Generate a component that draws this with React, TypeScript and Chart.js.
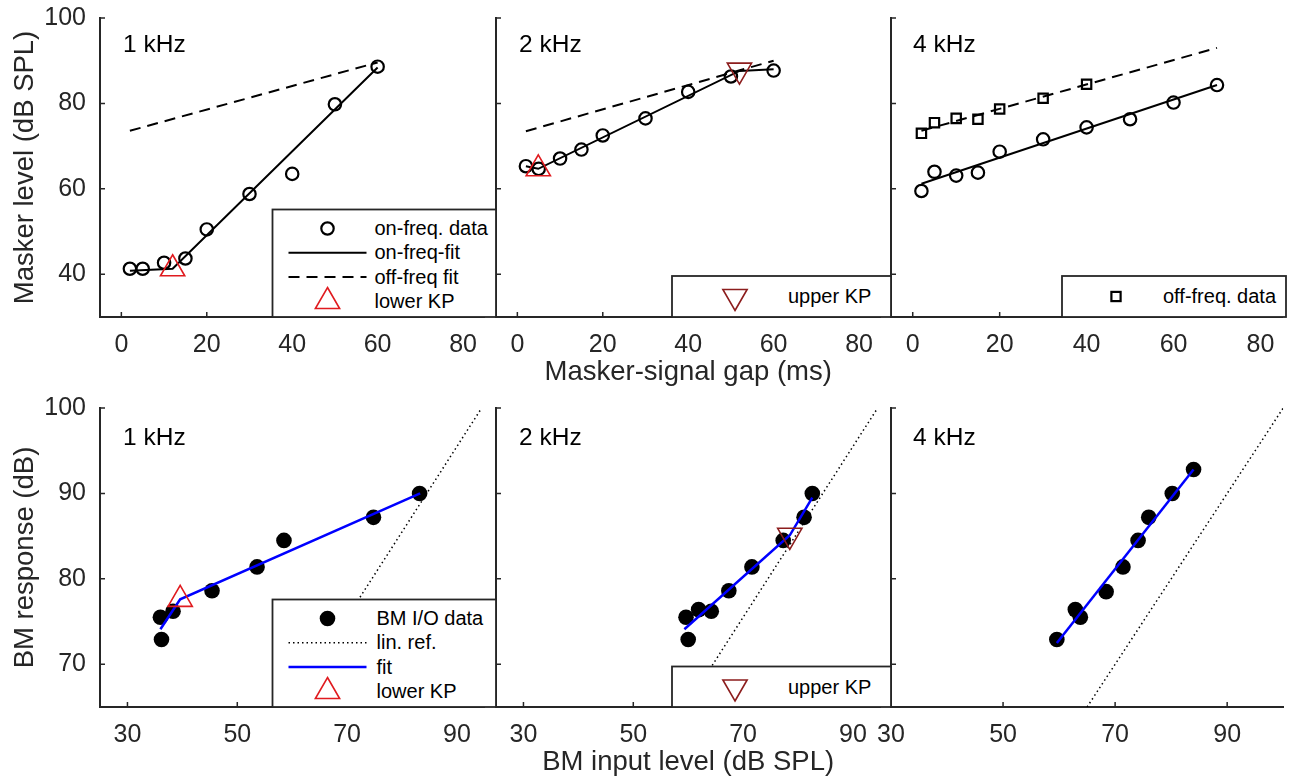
import React, { useEffect, useRef } from 'react';
import { Chart, registerables } from 'chart.js';

Chart.register(...registerables);

const FONT = '"Liberation Sans", Arial, Helvetica, sans-serif';
const AXIS = '#262626';
const RED = '#e01b1f';
const DARKRED = '#8c1d1d';
const BLUE = '#0000ff';

// ---------------- data: forward masking (top row) ----------------
const gapTicks = [0, 20, 40, 60, 80];
const levelTicks = [40, 60, 80, 100];

const gapMs = [2, 5, 10, 15, 20, 30, 40, 50, 60];
const gapMs4k = [2, 5, 10, 15, 20, 30, 40, 50, 60, 70];
const gapMsOff4k = [2, 5, 10, 15, 20, 30, 40];

const onFreq1k = [41.3, 41.3, 42.7, 43.7, 50.5, 58.8, 63.5, 79.8, 88.6];
const onFreq2k = [65.3, 64.7, 67.1, 69.2, 72.5, 76.5, 82.7, 86.3, 87.7];
const onFreq4k = [59.5, 64.0, 63.1, 63.8, 68.7, 71.6, 74.4, 76.3, 80.2, 84.3];
const offFreq4k = [73.0, 75.5, 76.5, 76.3, 78.7, 81.2, 84.5];

const onFitGap1k = [2, 12, 60];
const onFitLevel1k = [40.8, 41.3, 88.4];
const offFitGap1k = [2, 60];
const offFitLevel1k = [73.6, 89.6];

const onFitGap2k = [2, 4.9, 52, 60];
const onFitLevel2k = [65.3, 64.7, 87.6, 88.0];
const offFitGap2k = [2, 60];
const offFitLevel2k = [73.5, 90.0];

const onFitGap4k = [2, 70];
const onFitLevel4k = [61.2, 84.3];
const offFitGap4k = [2, 70];
const offFitLevel4k = [73.6, 93.0];

const lowerKPGap1k = [12];
const lowerKPLevel1k = [41.3];
const lowerKPGap2k = [4.9];
const lowerKPLevel2k = [64.7];
const upperKPGap2k = [52];
const upperKPLevel2k = [87.8];

// ---------------- data: BM input/output (bottom row) ----------------
const inputTicks = [30, 50, 70, 90];
const responseTicks = [70, 80, 90, 100];

const bmIn1k = [36.2, 36.0, 38.3, 45.4, 53.6, 58.5, 74.8, 83.2];
const bmOut1k = [72.9, 75.5, 76.2, 78.6, 81.4, 84.5, 87.2, 90.0];
const bmIn2k = [59.6, 60.0, 61.9, 64.2, 67.4, 71.6, 77.3, 81.1, 82.6];
const bmOut2k = [75.5, 72.9, 76.4, 76.2, 78.6, 81.4, 84.5, 87.2, 90.0];
const bmIn4k = [59.6, 62.9, 63.8, 68.4, 71.4, 74.1, 76.0, 80.2, 84.0];
const bmOut4k = [72.9, 76.4, 75.5, 78.5, 81.4, 84.5, 87.2, 90.0, 92.8];

const bmFitIn1k = [36.0, 39.6, 83.3];
const bmFitOut1k = [74.1, 77.6, 90.0];
const bmFitIn2k = [59.3, 78.5, 82.6];
const bmFitOut2k = [74.1, 85.1, 89.5];
const bmFitIn4k = [59.6, 84.0];
const bmFitOut4k = [72.5, 92.8];

const linRefIn12k = [59.5, 94.5];
const linRefOut12k = [65, 100];
const linRefIn4k = [65, 100];
const linRefOut4k = [65, 100];

const bmLowerKPIn1k = [39.6];
const bmLowerKPOut1k = [77.6];
const bmUpperKPIn2k = [78.5];
const bmUpperKPOut2k = [85.1];

// ---------------- helpers ----------------
type Pt = { x: number; y: number };
const zip = (xs: number[], ys: number[]): Pt[] => xs.map((x, i) => ({ x, y: ys[i] }));

const marks = (xs: number[], ys: number[], style: string, o: any) => ({
  data: zip(xs, ys),
  showLine: false,
  pointStyle: style,
  pointRadius: o.r,
  pointHoverRadius: o.r,
  pointBorderWidth: o.bw,
  pointBorderColor: o.color,
  pointBackgroundColor: o.fill || 'rgba(0,0,0,0)',
  pointRotation: o.rot || 0,
});

const line = (xs: number[], ys: number[], color: string, width: number, dash: number[] = []) => ({
  data: zip(xs, ys),
  showLine: true,
  pointRadius: 0,
  pointHoverRadius: 0,
  borderColor: color,
  borderWidth: width,
  borderDash: dash,
  fill: false,
  tension: 0,
});

const DASH = [11, 7];
const DOT = [1.5, 3];
const openCircle = { r: 6.2, bw: 2.2, color: '#000' };
const openSquare = { r: 6.6, bw: 2.2, color: '#000' };
const filledDot = { r: 7.8, bw: 0, color: '#000', fill: '#000' };
const lowerKP = { r: 14, bw: 1.6, color: RED };
const upperKP = { r: 14, bw: 1.6, color: DARKRED, rot: 180 };

const inwardTicks = {
  id: 'inwardTicks',
  afterDraw(chart: any) {
    const { ctx, chartArea: a } = chart;
    const xs = chart.scales.x;
    const ys = chart.scales.y;
    ctx.save();
    ctx.strokeStyle = AXIS;
    ctx.lineWidth = 1.5;
    ctx.beginPath();
    xs.ticks.forEach((t: any) => {
      const p = xs.getPixelForValue(t.value);
      ctx.moveTo(p, a.bottom);
      ctx.lineTo(p, a.bottom - 5);
    });
    ys.ticks.forEach((t: any) => {
      const p = ys.getPixelForValue(t.value);
      ctx.moveTo(a.left, p);
      ctx.lineTo(a.left + 5, p);
    });
    ctx.stroke();
    ctx.restore();
  },
};

// ---------------- layout ----------------
const PANEL_X = [100, 496, 891];
const PANEL_W = 395;
const PANEL_H = 299;
const ROW_Y = [18, 408];
const PAD_TOP = 18;
const PAD_RIGHT = 5;
const X_AXIS_H = 72;

type PanelSpec = {
  key: string;
  col: number;
  row: number;
  xMin: number;
  xMax: number;
  yMin: number;
  yMax: number;
  xTicks: number[];
  yTicks: number[];
  yLabels: boolean;
  yTitle: string;
  xTitle: string;
  datasets: any[];
};

const panels: PanelSpec[] = [
  {
    key: 't1', col: 0, row: 0, xMin: -5, xMax: 85, yMin: 30, yMax: 100,
    xTicks: gapTicks, yTicks: levelTicks, yLabels: true, yTitle: 'Masker level (dB SPL)', xTitle: '',
    datasets: [
      marks(lowerKPGap1k, lowerKPLevel1k, 'triangle', lowerKP),
      marks(gapMs, onFreq1k, 'circle', openCircle),
      line(onFitGap1k, onFitLevel1k, '#000', 2),
      line(offFitGap1k, offFitLevel1k, '#000', 2, DASH),
    ],
  },
  {
    key: 't2', col: 1, row: 0, xMin: -5, xMax: 85, yMin: 30, yMax: 100,
    xTicks: gapTicks, yTicks: levelTicks, yLabels: false, yTitle: '', xTitle: 'Masker-signal gap (ms)',
    datasets: [
      marks(lowerKPGap2k, lowerKPLevel2k, 'triangle', lowerKP),
      marks(upperKPGap2k, upperKPLevel2k, 'triangle', upperKP),
      marks(gapMs, onFreq2k, 'circle', openCircle),
      line(onFitGap2k, onFitLevel2k, '#000', 2),
      line(offFitGap2k, offFitLevel2k, '#000', 2, DASH),
    ],
  },
  {
    key: 't3', col: 2, row: 0, xMin: -5, xMax: 85, yMin: 30, yMax: 100,
    xTicks: gapTicks, yTicks: levelTicks, yLabels: false, yTitle: '', xTitle: '',
    datasets: [
      marks(gapMs4k, onFreq4k, 'circle', openCircle),
      marks(gapMsOff4k, offFreq4k, 'rect', openSquare),
      line(onFitGap4k, onFitLevel4k, '#000', 2),
      line(offFitGap4k, offFitLevel4k, '#000', 2, DASH),
    ],
  },
  {
    key: 'b1', col: 0, row: 1, xMin: 25, xMax: 95, yMin: 65, yMax: 100,
    xTicks: inputTicks, yTicks: responseTicks, yLabels: true, yTitle: 'BM response (dB)', xTitle: '',
    datasets: [
      marks(bmLowerKPIn1k, bmLowerKPOut1k, 'triangle', lowerKP),
      line(bmFitIn1k, bmFitOut1k, BLUE, 2.5),
      marks(bmIn1k, bmOut1k, 'circle', filledDot),
      line(linRefIn12k, linRefOut12k, '#000', 1.5, DOT),
    ],
  },
  {
    key: 'b2', col: 1, row: 1, xMin: 25, xMax: 95, yMin: 65, yMax: 100,
    xTicks: inputTicks, yTicks: responseTicks, yLabels: false, yTitle: '', xTitle: 'BM input level (dB SPL)',
    datasets: [
      marks(bmUpperKPIn2k, bmUpperKPOut2k, 'triangle', upperKP),
      line(bmFitIn2k, bmFitOut2k, BLUE, 2.5),
      marks(bmIn2k, bmOut2k, 'circle', filledDot),
      line(linRefIn12k, linRefOut12k, '#000', 1.5, DOT),
    ],
  },
  {
    key: 'b3', col: 2, row: 1, xMin: 30, xMax: 100, yMin: 65, yMax: 100,
    xTicks: inputTicks, yTicks: responseTicks, yLabels: false, yTitle: '', xTitle: '',
    datasets: [
      line(bmFitIn4k, bmFitOut4k, BLUE, 2.5),
      marks(bmIn4k, bmOut4k, 'circle', filledDot),
      line(linRefIn4k, linRefOut4k, '#000', 1.5, DOT),
    ],
  },
];

function Panel({ spec }: { spec: PanelSpec }) {
  const ref = useRef<HTMLCanvasElement>(null);
  const yAxisW = spec.yLabels ? PANEL_X[0] : 24;
  const left = PANEL_X[spec.col] - yAxisW;
  const top = ROW_Y[spec.row] - PAD_TOP;
  const width = yAxisW + PANEL_W + PAD_RIGHT;
  const height = PAD_TOP + PANEL_H + X_AXIS_H;

  useEffect(() => {
    if (!ref.current) return;
    const chart = new Chart(ref.current, {
      type: 'scatter',
      data: { datasets: spec.datasets },
      options: {
        animation: false,
        responsive: false,
        maintainAspectRatio: false,
        devicePixelRatio: 1,
        events: [],
        layout: { padding: { top: PAD_TOP, right: PAD_RIGHT, bottom: 0, left: 0 } },
        plugins: { legend: { display: false }, tooltip: { enabled: false }, title: { display: false } },
        scales: {
          x: {
            type: 'linear',
            position: 'bottom',
            min: spec.xMin,
            max: spec.xMax,
            afterBuildTicks: (s: any) => {
              s.ticks = spec.xTicks.map((v) => ({ value: v }));
            },
            afterFit: (s: any) => {
              s.height = X_AXIS_H;
              s.paddingLeft = 0;
              s.paddingRight = 0;
              s.paddingTop = 0;
              s.paddingBottom = 0;
            },
            grid: { display: false, drawTicks: false },
            border: { display: true, color: AXIS, width: 2 },
            ticks: {
              display: true,
              autoSkip: false,
              maxRotation: 0,
              color: AXIS,
              padding: 13,
              font: { size: 25, family: FONT },
            },
            title: {
              display: !!spec.xTitle,
              text: spec.xTitle,
              color: AXIS,
              padding: 0,
              font: { size: 27.5, family: FONT },
            },
          },
          y: {
            type: 'linear',
            position: 'left',
            min: spec.yMin,
            max: spec.yMax,
            afterBuildTicks: (s: any) => {
              s.ticks = spec.yTicks.map((v) => ({ value: v }));
            },
            afterFit: (s: any) => {
              s.width = yAxisW;
              s.paddingLeft = 0;
              s.paddingRight = 0;
              s.paddingTop = 0;
              s.paddingBottom = 0;
            },
            grid: { display: false, drawTicks: false },
            border: { display: true, color: AXIS, width: 2 },
            ticks: {
              display: spec.yLabels,
              autoSkip: false,
              color: AXIS,
              padding: 14,
              font: { size: 25, family: FONT },
            },
            title: {
              display: !!spec.yTitle,
              text: spec.yTitle,
              color: AXIS,
              padding: { top: 8.5, bottom: 0 },
              font: { size: 27.5, family: FONT },
            },
          },
        },
      } as any,
      plugins: [inwardTicks],
    });
    return () => chart.destroy();
  }, []);

  return (
    <canvas
      ref={ref}
      width={width}
      height={height}
      style={{ position: 'absolute', left, top, width, height }}
    />
  );
}

// ---------------- legends & panel labels (overlay) ----------------
type Sym = 'circle' | 'dot' | 'square' | 'triUp' | 'triDown' | 'solid' | 'dashed' | 'dotted' | 'blue';
type LegendSpec = {
  left: number;
  top: number;
  width: number;
  height: number;
  symX: number;
  textX: number;
  rows: { sym: Sym; label: string; cy: number }[];
};

const ROW4 = [19, 43.3, 67.6, 92];
const legends: LegendSpec[] = [
  {
    left: 272.5, top: 209.5, width: 223.5, height: 107.5, symX: 55, textX: 102,
    rows: [
      { sym: 'circle', label: 'on-freq. data', cy: ROW4[0] },
      { sym: 'solid', label: 'on-freq-fit', cy: ROW4[1] },
      { sym: 'dashed', label: 'off-freq fit', cy: ROW4[2] },
      { sym: 'triUp', label: 'lower KP', cy: ROW4[3] },
    ],
  },
  {
    left: 672, top: 276, width: 219, height: 41, symX: 63, textX: 116,
    rows: [{ sym: 'triDown', label: 'upper KP', cy: 20.5 }],
  },
  {
    left: 1062, top: 276, width: 224, height: 41, symX: 54, textX: 101,
    rows: [{ sym: 'square', label: 'off-freq. data', cy: 20.5 }],
  },
  {
    left: 272.5, top: 599.5, width: 223.5, height: 107.5, symX: 55, textX: 104,
    rows: [
      { sym: 'dot', label: 'BM I/O data', cy: ROW4[0] },
      { sym: 'dotted', label: 'lin. ref.', cy: ROW4[1] },
      { sym: 'blue', label: 'fit', cy: ROW4[2] },
      { sym: 'triUp', label: 'lower KP', cy: ROW4[3] },
    ],
  },
  {
    left: 672, top: 666.5, width: 219, height: 40.5, symX: 63, textX: 116,
    rows: [{ sym: 'triDown', label: 'upper KP', cy: 20.5 }],
  },
];

const panelLabels = [
  { text: '1 kHz', x: PANEL_X[0] + 23, y: 51.7 },
  { text: '2 kHz', x: PANEL_X[1] + 23, y: 51.7 },
  { text: '4 kHz', x: PANEL_X[2] + 22, y: 51.7 },
  { text: '1 kHz', x: PANEL_X[0] + 23, y: 445 },
  { text: '2 kHz', x: PANEL_X[1] + 23, y: 445 },
  { text: '4 kHz', x: PANEL_X[2] + 22, y: 445 },
];

function tri(cx: number, cy: number, r: number, down: boolean) {
  const s = down ? -1 : 1;
  const pts = [
    [cx, cy - s * r],
    [cx + 0.866 * r, cy + s * 0.5 * r],
    [cx - 0.866 * r, cy + s * 0.5 * r],
  ];
  return pts.map((p) => p.join(',')).join(' ');
}

function Symbol({ sym, x, y }: { sym: Sym; x: number; y: number }) {
  const x1 = 16;
  const x2 = 94;
  switch (sym) {
    case 'circle':
      return <circle cx={x} cy={y} r={6.2} fill="none" stroke="#000" strokeWidth={2.2} />;
    case 'dot':
      return <circle cx={x} cy={y} r={7.8} fill="#000" />;
    case 'square':
      return <rect x={x - 4.6} y={y - 4.6} width={9.2} height={9.2} fill="none" stroke="#000" strokeWidth={2.2} />;
    case 'triUp':
      return <polygon points={tri(x, y, 14, false)} fill="none" stroke={RED} strokeWidth={1.6} />;
    case 'triDown':
      return <polygon points={tri(x, y, 14, true)} fill="none" stroke={DARKRED} strokeWidth={1.6} />;
    case 'solid':
      return <line x1={x1} x2={x2} y1={y} y2={y} stroke="#000" strokeWidth={2} />;
    case 'dashed':
      return <line x1={x1} x2={x2} y1={y} y2={y} stroke="#000" strokeWidth={2} strokeDasharray={DASH.join(' ')} />;
    case 'dotted':
      return <line x1={x1} x2={x2} y1={y} y2={y} stroke="#000" strokeWidth={1.5} strokeDasharray={DOT.join(' ')} />;
    case 'blue':
      return <line x1={x1} x2={x2} y1={y} y2={y} stroke={BLUE} strokeWidth={2.5} />;
  }
  return null;
}

function Overlay() {
  return (
    <svg
      width={1291}
      height={780}
      style={{ position: 'absolute', left: 0, top: 0, pointerEvents: 'none' }}
    >
      {panelLabels.map((p, i) => (
        <text key={'pl' + i} x={p.x} y={p.y} fontFamily={FONT} fontSize={24.5} fill="#000">
          {p.text}
        </text>
      ))}
      {legends.map((lg, i) => (
        <g key={'lg' + i} transform={`translate(${lg.left},${lg.top})`}>
          <rect x={0} y={0} width={lg.width} height={lg.height} fill="#fff" stroke={AXIS} strokeWidth={1.8} />
          {lg.rows.map((r, j) => (
            <g key={j}>
              <Symbol sym={r.sym} x={lg.symX} y={r.cy} />
              <text x={lg.textX} y={r.cy + 6.5} fontFamily={FONT} fontSize={20} fill="#000">
                {r.label}
              </text>
            </g>
          ))}
        </g>
      ))}
    </svg>
  );
}

export default function App() {
  return (
    <div
      style={{
        position: 'absolute',
        left: 0,
        top: 0,
        width: 1291,
        height: 780,
        overflow: 'hidden',
        background: '#fff',
      }}
    >
      {panels.map((p) => (
        <Panel key={p.key} spec={p} />
      ))}
      <Overlay />
    </div>
  );
}
